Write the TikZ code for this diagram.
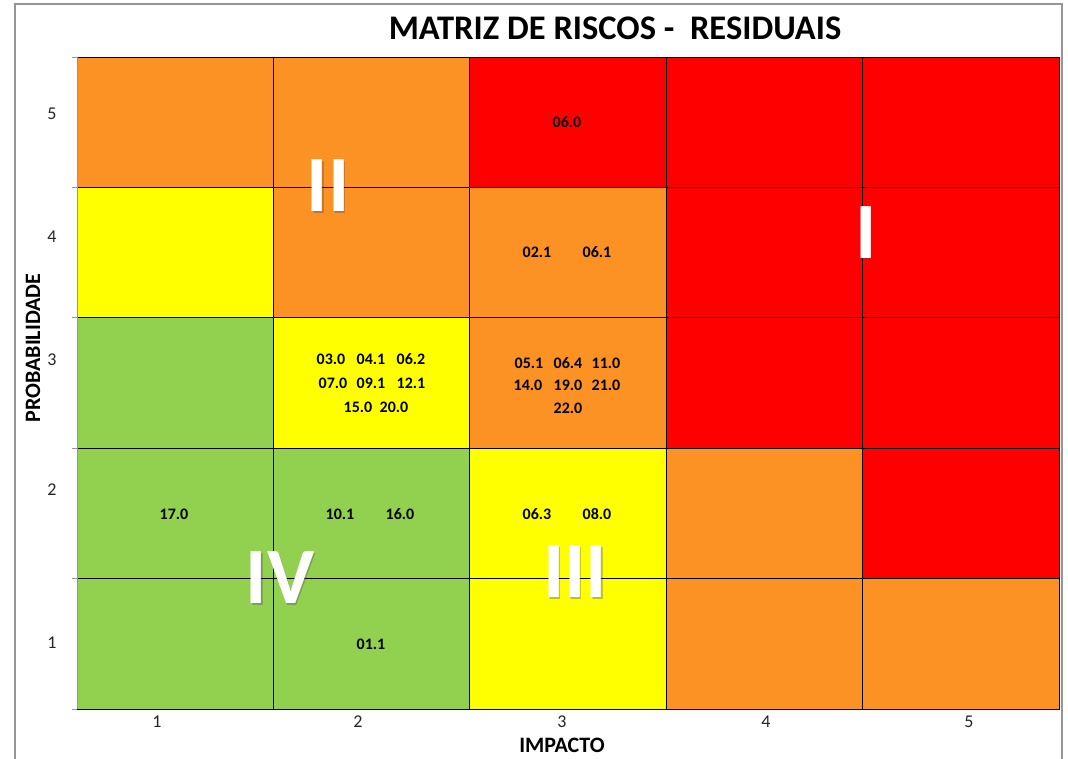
\documentclass[tikz,border=0pt]{standalone}
\usepackage{fontspec}
\setmainfont{Carlito}

\definecolor{riscovermelho}{RGB}{255,0,0}
\definecolor{riscolaranja}{RGB}{252,145,36}
\definecolor{riscoamarelo}{RGB}{255,255,0}
\definecolor{riscoverde}{RGB}{146,208,80}
\definecolor{molduracinza}{RGB}{150,150,150}

\tikzset{
  rotulo/.style={font=\fontsize{16}{16}\selectfont\bfseries, inner sep=0pt},
  eixo/.style={font=\fontsize{18}{18}\selectfont, text=black!85, inner sep=0pt},
  quadrante/.style={font=\fontsize{80}{80}\selectfont\bfseries, text=white, inner sep=0pt},
  sombra/.style={quadrante, text=black!70, opacity=0.35}
}

\begin{document}
\begin{tikzpicture}[x=1pt,y=-1pt]

\useasboundingbox [fill=white] (0,0) rectangle (1068,758) ;
\draw [molduracinza, line width=1.5] (15,4) rectangle (1062,780) ;

% cores das celulas, linha a linha
\fill [riscolaranja] (77,57) rectangle (469,187) ;
\fill [riscovermelho] (469,57) rectangle (1059,187) ;
\fill [riscoamarelo] (77,187) rectangle (273,317) ;
\fill [riscolaranja] (273,187) rectangle (666,317) ;
\fill [riscovermelho] (666,187) rectangle (1059,317) ;
\fill [riscoverde] (77,317) rectangle (273,448) ;
\fill [riscoamarelo] (273,317) rectangle (469,448) ;
\fill [riscolaranja] (469,317) rectangle (666,448) ;
\fill [riscovermelho] (666,317) rectangle (1059,448) ;
\fill [riscoverde] (77,448) rectangle (469,709) ;
\fill [riscoamarelo] (469,448) rectangle (666,709) ;
\fill [riscolaranja] (666,448) rectangle (862,709) ;
\fill [riscovermelho] (862,448) rectangle (1059,578) ;
\fill [riscolaranja] (862,578) rectangle (1059,709) ;

% grade
\draw [line width=0.8] (77,57) rectangle (1059,709) ;
\draw [line width=0.8] (273,57) -- (273,709) ;
\draw [line width=0.8] (469,57) -- (469,709) ;
\draw [line width=0.8] (666,57) -- (666,709) ;
\draw [line width=0.8] (862,57) -- (862,709) ;
\draw [line width=0.8] (77,187) -- (1059,187) ;
\draw [line width=0.8] (77,317) -- (1059,317) ;
\draw [line width=0.8] (77,448) -- (1059,448) ;
\draw [line width=0.8] (77,578) -- (1059,578) ;
\draw [molduracinza, line width=0.8] (72,57) -- (77,57) (72,187) -- (77,187) (72,317) -- (77,317)
  (72,448) -- (77,448) (72,578) -- (77,578) (72,709) -- (77,709) ;
\draw [molduracinza, line width=0.8] (77,57) -- (77,709) ;

% titulo e eixos
\node (titulo) at (615,28) [font=\fontsize{34.5}{34.5}\selectfont\bfseries, inner sep=0pt] {MATRIZ DE RISCOS -\ \ RESIDUAIS} ;
\node (impacto) at (562,745) [font=\fontsize{22}{22}\selectfont\bfseries, inner sep=0pt] {IMPACTO} ;
\node (probab) at (33,348) [rotate=90, font=\fontsize{22}{22}\selectfont\bfseries, inner sep=0pt] {PROBABILIDADE} ;

\node (p5) at (52,114) [eixo] {5} ;
\node (p4) at (52,237) [eixo] {4} ;
\node (p3) at (52,360) [eixo] {3} ;
\node (p2) at (52,490) [eixo] {2} ;
\node (p1) at (52,643) [eixo] {1} ;
\node (i1) at (157,722) [eixo] {1} ;
\node (i2) at (358,722) [eixo] {2} ;
\node (i3) at (562,722) [eixo] {3} ;
\node (i4) at (766,722) [eixo] {4} ;
\node (i5) at (969,722) [eixo] {5} ;

% riscos
\node (r060) at (567,122) [rotulo] {06.0} ;
\node (r021) at (537,252) [rotulo] {02.1} ;
\node (r061) at (597,252) [rotulo] {06.1} ;
\node (r030) at (331,359) [rotulo] {03.0} ;
\node (r041) at (371,359) [rotulo] {04.1} ;
\node (r062) at (411,359) [rotulo] {06.2} ;
\node (r070) at (333,383) [rotulo] {07.0} ;
\node (r091) at (371,383) [rotulo] {09.1} ;
\node (r121) at (411,383) [rotulo] {12.1} ;
\node (r150) at (358,407) [rotulo] {15.0} ;
\node (r200) at (394,407) [rotulo] {20.0} ;
\node (r051) at (529,363) [rotulo] {05.1} ;
\node (r064) at (568,363) [rotulo] {06.4} ;
\node (r110) at (606,363) [rotulo] {11.0} ;
\node (r140) at (528,385) [rotulo] {14.0} ;
\node (r190) at (568,385) [rotulo] {19.0} ;
\node (r210) at (606,385) [rotulo] {21.0} ;
\node (r220) at (568,408) [rotulo] {22.0} ;
\node (r170) at (174,514) [rotulo] {17.0} ;
\node (r101) at (340,514) [rotulo] {10.1} ;
\node (r160) at (400,514) [rotulo] {16.0} ;
\node (r063) at (537,514) [rotulo] {06.3} ;
\node (r080) at (597,514) [rotulo] {08.0} ;
\node (r011) at (371,644) [rotulo] {01.1} ;

% quadrantes
\node (q1s) at (867.5,234.5) [sombra] {I} ;
\node (q1) at (866,233) [quadrante] {I} ;
\node (q2s) at (329.5,187.5) [sombra] {II} ;
\node (q2) at (328,186) [quadrante] {II} ;
\node (q3s) at (576.5,573.5) [sombra] {III} ;
\node (q3) at (575,572) [quadrante] {III} ;
\node (q4s) at (281.5,579.5) [sombra] {IV} ;
\node (q4) at (280,578) [quadrante] {IV} ;

\end{tikzpicture}
\end{document}
